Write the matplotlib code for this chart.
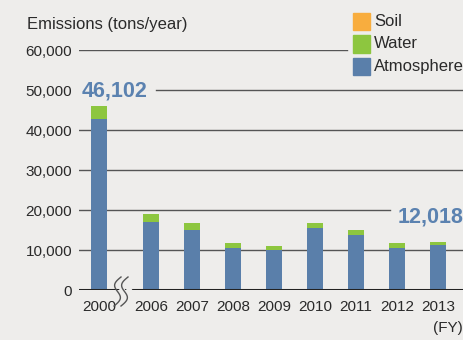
import numpy as np
import matplotlib
matplotlib.use("Agg")
import matplotlib.pyplot as plt
from matplotlib.patches import Rectangle
from matplotlib.lines import Line2D

years = ["2000", "2006", "2007", "2008", "2009", "2010", "2011", "2012", "2013"]
atmosphere = [42700, 17100, 15100, 10600, 10000, 15600, 13800, 10600, 11300]
water = [3382, 1900, 1650, 1200, 1000, 1200, 1300, 1200, 698]
soil = [20, 10, 10, 10, 10, 10, 10, 10, 20]
totals = [46102, None, None, None, None, None, None, None, 12018]

BG = "#eeedeb"
BLUE = "#5a7faa"
GREEN = "#8dc63f"
ORANGE = "#f8ad3e"
LABEL_BLUE = "#5b82b0"
TEXT = "#2a2a2a"

plt.rcParams["font.family"] = ["Liberation Sans", "DejaVu Sans"]

fig = plt.figure(figsize=(4.64, 3.40), dpi=100, facecolor=BG)
ax = fig.add_axes([79 / 464, 50 / 340, 385 / 464, 240 / 340], facecolor=BG)

# 2000 sits apart from the rest, with a break mark in the gap
x = np.array([0.0] + [1.27 + i for i in range(len(years) - 1)])
atm = np.array(atmosphere)
wat = np.array(water)
soi = np.array(soil)

ax.bar(x, atm, width=0.39, color=BLUE, zorder=3)
ax.bar(x, wat, width=0.39, bottom=atm, color=GREEN, zorder=3)
ax.bar(x, soi, width=0.39, bottom=atm + wat, color=ORANGE, zorder=3)

ax.set_xlim(-0.49, 8.90)
ax.set_ylim(0, 60000)

# horizontal rules, some cut short around the labels
spans = {60000: (0.0, 0.696), 50000: (0.20, 1.0), 40000: (0.0, 1.0),
         30000: (0.0, 1.0), 20000: (0.0, 0.808), 10000: (0.0, 1.0)}
for yv, (a, b) in spans.items():
    ax.axhline(yv, a, b, color="#555555", lw=1.0, zorder=1)
ax.axhline(0, color="#222222", lw=2.2, zorder=4)

for s in ax.spines.values():
    s.set_visible(False)
yt = [0, 10000, 20000, 30000, 40000, 50000, 60000]
ax.set_yticks(yt, [f"{v:,}" for v in yt])
ax.set_xticks(x, years)
ax.tick_params(axis="y", length=0, pad=5, labelsize=11, labelcolor=TEXT)
ax.tick_params(axis="x", length=0, pad=7, labelsize=11, labelcolor=TEXT)

# total labels for first and last year
ax.text(x[0] - 0.42, 49750, f"{totals[0]:,}", color=LABEL_BLUE, fontsize=15.5,
        fontweight="bold", ha="left", va="center")
ax.text(8.90, 18250, f"{totals[-1]:,}", color=LABEL_BLUE, fontsize=15.5,
        fontweight="bold", ha="right", va="center")

fig.text(27 / 464, 1 - 24 / 340, "Emissions (tons/year)", fontsize=12,
         color=TEXT, ha="left", va="center")
fig.text(463 / 464, 1 - 328 / 340, "(FY)", fontsize=11, color=TEXT,
         ha="right", va="center")

# legend
for i, (lab, col) in enumerate([("Soil", ORANGE), ("Water", GREEN), ("Atmosphere", BLUE)]):
    ytop = 13 + i * 22.5
    fig.patches.append(Rectangle((353 / 464, 1 - (ytop + 17) / 340), 17 / 464, 17 / 340,
                                 transform=fig.transFigure, color=col))
    fig.text(374 / 464, 1 - (ytop + 8.5) / 340, lab, fontsize=12, color=TEXT,
             ha="left", va="center")

# axis break squiggles
t = np.linspace(0, 1, 40)
for dx in (0, 7):
    px = 121 + dx - 4.5 * np.sin(t * 2 * np.pi) - 7 * t
    py = 277 + 29 * t
    fig.add_artist(Line2D((px + 6) / 464, 1 - py / 340, color=BG, lw=3.5,
                          transform=fig.transFigure, zorder=5))
    fig.add_artist(Line2D(px / 464, 1 - py / 340, color="#555555", lw=1.0,
                          transform=fig.transFigure, zorder=6))

fig.savefig("out.png", dpi=100, facecolor=BG)
